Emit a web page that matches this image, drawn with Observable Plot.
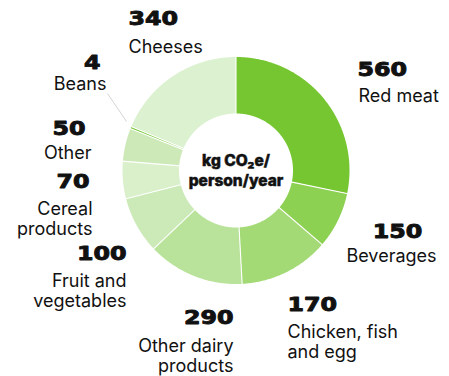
<!DOCTYPE html>
<html>
<head>
<meta charset="utf-8">
<script src="https://cdn.jsdelivr.net/npm/d3@7"></script>
<script src="https://cdn.jsdelivr.net/npm/@observablehq/plot@0.6"></script>
<style>
  html, body { margin: 0; padding: 0; background: #ffffff; }
  #chart { width: 449px; height: 376px; }
</style>
</head>
<body>
<div id="chart"></div>
<script>
// ---------- data ----------
const categories = ["Red meat", "Beverages", "Chicken, fish\nand egg", "Other dairy\nproducts",
  "Fruit and\nvegetables", "Cereal\nproducts", "Other", "Beans", "Cheeses"];
const values = [560, 150, 170, 290, 100, 70, 50, 4, 340];
// share of the ring (%) that each slice takes in the picture
const sliceShare = [28.25, 8.06, 12.83, 13.75, 8.11, 5.31, 4.69, 0.33, 18.67];
const centerLines = ["kg CO\u2082e/", "person/year"];

// ---------- styles / layout ----------
const sliceColors = ["#75c630", "#8dd153", "#a3da75", "#b9e39b", "#cceab7", "#d9f0cb", "#cde9b8", "#75c630", "#dbf1cf"];
const W = 449, H = 376;
const cx = 235.5, cy = 170, R = 113.5, r0 = 57;
// label layout: [number x, number baseline, label x, label first baseline, anchor]
const labelLayout = [
  [357, 75, 358, 100, "start"],
  [397, 237, 391, 260, "middle"],
  [287, 310, 287, 336, "start"],
  [233, 323, 233, 350, "end"],
  [126, 259, 126, 285, "end"],
  [89, 187, 92, 213, "end"],
  [85, 134, 91, 157, "end"],
  [100, 68, 106, 88, "end"],
  [128, 24, 128, 51, "start"]
];
const leader = [[107, 93], [126, 121]];
const numFont = 19, labFont = 18, numStretch = 1.25;

// ---------- geometry through scales ----------
const toXY = (a, rad) => [cx + rad * Math.sin(a), cy - rad * Math.cos(a)];
const polys = [];
const seps = [];
let acc = 0;
sliceShare.forEach((s, i) => {
  const a0 = acc / 100 * 2 * Math.PI;
  acc += s;
  const a1 = acc / 100 * 2 * Math.PI;
  const n = Math.max(2, Math.ceil((a1 - a0) / (Math.PI / 360)));
  for (let k = 0; k <= n; k++) {
    const a = a0 + (a1 - a0) * k / n;
    const [x, y] = toXY(a, R);
    polys.push({name: categories[i], x, y, color: sliceColors[i]});
  }
  for (let k = n; k >= 0; k--) {
    const a = a0 + (a1 - a0) * k / n;
    const [x, y] = toXY(a, r0);
    polys.push({name: categories[i], x, y, color: sliceColors[i]});
  }
  const [x1, y1] = toXY(a0, r0 - 1);
  const [x2, y2] = toXY(a0, R + 1);
  seps.push({x1, y1, x2, y2});
});

const rows = categories.map((c, i) => ({
  label: c, value: String(values[i]),
  nx: labelLayout[i][0], ny: labelLayout[i][1] - 0.71 * numFont,
  lx: labelLayout[i][2], ly: labelLayout[i][3] - 0.71 * labFont,
  anchor: labelLayout[i][4]
}));

const textMarks = [];
for (const anchor of ["start", "middle", "end"]) {
  const sub = rows.filter(d => d.anchor === anchor);
  textMarks.push(Plot.text(sub, {
    x: "nx", y: "ny", text: "value", textAnchor: anchor, lineAnchor: "top",
    fontSize: numFont, fontWeight: 900, fontFamily: "DejaVu Sans",
    fill: "#111", stroke: "#111", strokeWidth: 0.9, letterSpacing: 0.3,
    className: "num"
  }));
  textMarks.push(Plot.text(sub, {
    x: "lx", y: "ly", text: "label", textAnchor: anchor, lineAnchor: "top",
    lineHeight: 1.1, fontSize: labFont, fontWeight: 400, fontFamily: "Inter",
    fill: "#111", letterSpacing: 0.5
  }));
}

const centerRows = centerLines.map((t, i) => ({t, i}));

const chart = Plot.plot({
  width: W, height: H,
  margin: 0, marginTop: 0, marginRight: 0, marginBottom: 0, marginLeft: 0,
  x: {domain: [0, W], range: [0, W], axis: null},
  y: {domain: [0, H], range: [0, H], axis: null},
  color: {type: "identity"},
  style: {background: "#ffffff", overflow: "visible"},
  marks: [
    Plot.line(polys, {x: "x", y: "y", z: "name", fill: "color", stroke: "none", curve: "linear"}),
    Plot.link(seps, {x1: "x1", y1: "y1", x2: "x2", y2: "y2", stroke: "#ffffff", strokeWidth: 1.1}),
    Plot.link([leader], {x1: d => d[0][0], y1: d => d[0][1], x2: d => d[1][0], y2: d => d[1][1],
      stroke: "#d4d4d4", strokeWidth: 1}),
    Plot.text(centerRows, {
      x: () => cx, y: d => cy - 9.5 + d.i * 20, text: "t", textAnchor: "middle", lineAnchor: "middle",
      fontSize: 15.5, fontWeight: 800, fontFamily: "Inter", fill: "#111", stroke: "#111", strokeWidth: 0.5
    }),
    ...textMarks
  ]
});
document.getElementById("chart").appendChild(chart);

// widen the heavy number glyphs horizontally around their anchor point
d3.select(chart).selectAll(".num text").each(function () {
  const t = this.getAttribute("transform");
  if (t) {
    this.setAttribute("transform", t + ` scale(${numStretch},1)`);
  } else {
    const x = +this.getAttribute("x") || 0;
    this.setAttribute("transform", `translate(${x},0) scale(${numStretch},1) translate(${-x},0)`);
  }
});
</script>
</body>
</html>
